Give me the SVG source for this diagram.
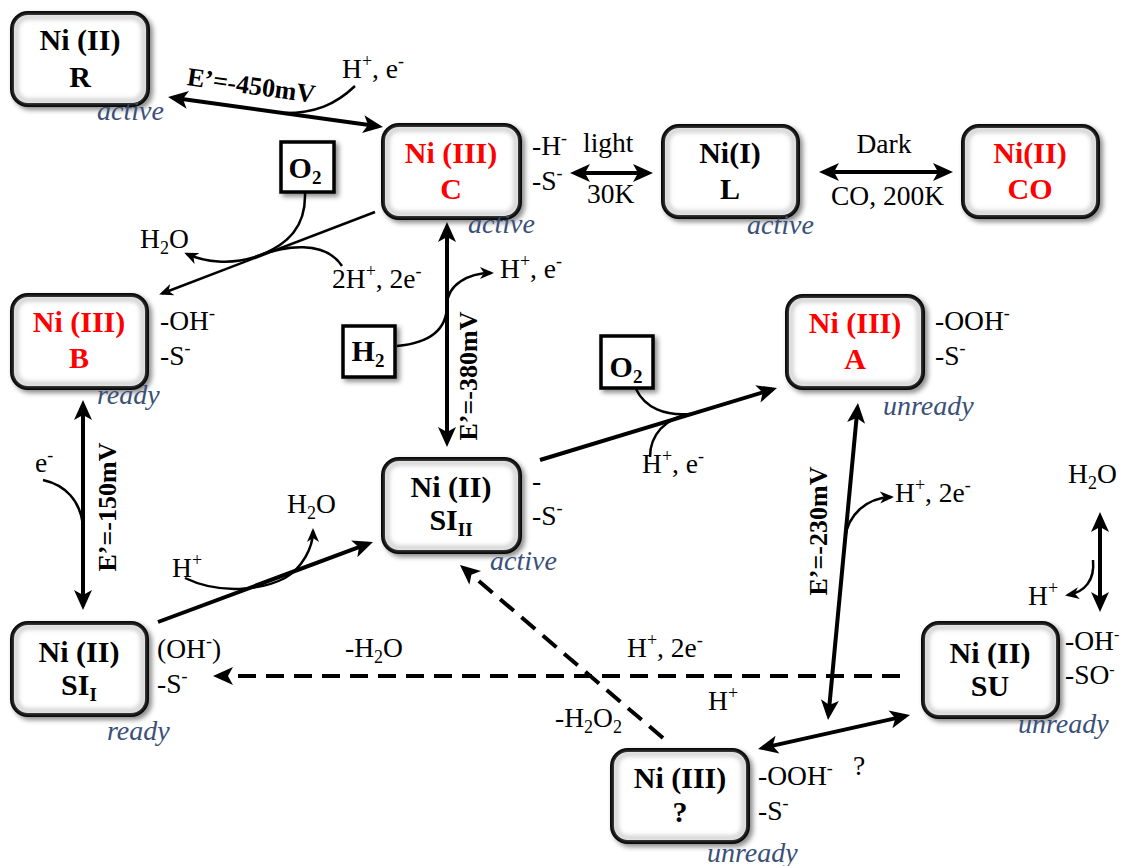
<svg xmlns="http://www.w3.org/2000/svg" width="1131" height="866" viewBox="0 0 1131 866">
<defs>
<style>
.box{fill:#fff;stroke:#000;stroke-width:4;filter:url(#sh)}
.in{fill:none;stroke:#b0b0b0;stroke-width:3;filter:url(#bl)}
.nt{font-family:"Liberation Serif","Times New Roman",serif;font-weight:bold;font-size:30px;text-anchor:middle;fill:#000}
.red{fill:#f00}
.t{font-family:"Liberation Serif","Times New Roman",serif;font-size:27.5px;fill:#000}
.b{font-family:"Liberation Serif","Times New Roman",serif;font-size:26px;font-weight:bold;fill:#000}
.st{font-family:"Liberation Serif","Times New Roman",serif;font-style:italic;font-size:28px;fill:#3a5078}
.s{font-size:18px}
.ax{fill:none;stroke:#000;stroke-width:4}
.cv{fill:none;stroke:#000;stroke-width:2.5}
.dash{stroke-dasharray:18 10}
.sb{fill:#fff;stroke:#000;stroke-width:3.5;filter:url(#sh)}
</style>
<filter id="sh" x="-20%" y="-20%" width="140%" height="140%"><feDropShadow dx="3" dy="3" stdDeviation="2.5" flood-color="#000" flood-opacity="0.45"/></filter>
<filter id="bl" x="-20%" y="-20%" width="140%" height="140%"><feGaussianBlur stdDeviation="2.5"/></filter>
<marker id="ah" viewBox="0 0 20 20" refX="15" refY="10" markerWidth="20" markerHeight="20" markerUnits="userSpaceOnUse" orient="auto-start-reverse"><path d="M0,1 L20,10 L0,19 L5,10 z" fill="#000"/></marker>
<marker id="as" viewBox="0 0 14 14" refX="11" refY="7" markerWidth="14" markerHeight="14" markerUnits="userSpaceOnUse" orient="auto-start-reverse"><path d="M0,1 L14,7 L0,13 L4,7 z" fill="#000"/></marker>
</defs>
<rect width="1131" height="866" fill="#fff"/>

<g id="connectors">
<line class="ax" x1="173" y1="97.7" x2="378" y2="126.3" marker-start="url(#ah)" marker-end="url(#ah)"/>
<path class="cv" d="M355,86 C335,105 315,113 285,113"/>
<line class="ax" x1="575" y1="173" x2="648" y2="173" marker-start="url(#ah)" marker-end="url(#ah)"/>
<line class="ax" x1="824" y1="172" x2="948" y2="172" marker-start="url(#ah)" marker-end="url(#ah)"/>
<line class="cv" x1="375" y1="212" x2="162" y2="293.5" marker-end="url(#as)"/>
<path class="cv" d="M305,193 C306,225 290,245 255,257"/>
<path class="cv" d="M342,266 C325,240 285,245 255,257 C230,265 205,262 187,254" marker-end="url(#as)"/>
<line class="ax" x1="447" y1="227" x2="447" y2="442" marker-start="url(#ah)" marker-end="url(#ah)"/>
<path class="cv" d="M397,346 C430,343 447,330 447,305 C447,285 468,273 491,273" marker-end="url(#as)"/>
<line class="ax" x1="83" y1="405" x2="83" y2="605" marker-start="url(#ah)" marker-end="url(#ah)"/>
<path class="cv" d="M43,480 C65,485 80,500 83,525"/>
<line class="ax" x1="158" y1="622" x2="368.3" y2="543.7" marker-end="url(#ah)"/>
<path class="cv" d="M185,578 C220,595 262,590 285,578 C302,568 313,548 313,531" marker-end="url(#as)"/>
<line class="ax" x1="540" y1="460" x2="772.2" y2="389.5" marker-end="url(#ah)"/>
<path class="cv" d="M636,389 C645,408 665,416 690,414"/>
<path class="cv" d="M650,457 C650,435 665,418 690,414"/>
<line class="ax" x1="857.5" y1="408" x2="828.5" y2="715" marker-start="url(#ah)" marker-end="url(#ah)"/>
<path class="cv" d="M845,538 C848,515 866,498 891,497" marker-end="url(#as)"/>
<line class="ax" x1="1100" y1="517" x2="1100" y2="607" marker-start="url(#ah)" marker-end="url(#ah)"/>
<path class="cv" d="M1093,560 C1095,580 1085,592 1068,595" marker-end="url(#as)"/>
<line class="ax dash" x1="900" y1="676" x2="218" y2="676" marker-end="url(#ah)"/>
<line class="ax dash" x1="663" y1="738" x2="463.8" y2="568.2" marker-end="url(#ah)"/>
<line class="ax" x1="762.9" y1="747.9" x2="905.1" y2="716.1" marker-start="url(#ah)" marker-end="url(#ah)"/>
</g>

<g id="node-R">
<rect class="box" x="12" y="13" width="136" height="92" rx="16"/>
<rect class="in" x="16" y="17" width="128" height="84" rx="12"/>
<text class="nt" x="80" y="50">Ni (II)</text>
<text class="nt" x="80" y="87">R</text>
<text class="st" x="97" y="120">active</text>
</g>

<g id="node-C">
<rect class="box" x="383" y="125" width="137" height="93" rx="16"/>
<rect class="in" x="387" y="129" width="129" height="85" rx="12"/>
<text class="nt red" x="451" y="163">Ni (III)</text>
<text class="nt red" x="451" y="199">C</text>
<text class="t" x="532" y="155">-H<tspan class="s" dy="-11">-</tspan></text>
<text class="t" x="532" y="190">-S<tspan class="s" dy="-11">-</tspan></text>
<text class="st" x="468" y="233">active</text>
</g>

<g id="node-L">
<rect class="box" x="663" y="126" width="135" height="91" rx="16"/>
<rect class="in" x="667" y="130" width="127" height="83" rx="12"/>
<text class="nt" x="730" y="163">Ni(I)</text>
<text class="nt" x="730" y="199">L</text>
<text class="st" x="747" y="234">active</text>
</g>

<g id="node-CO">
<rect class="box" x="963" y="126" width="135" height="91" rx="16"/>
<rect class="in" x="967" y="130" width="127" height="83" rx="12"/>
<text class="nt red" x="1030" y="163">Ni(II)</text>
<text class="nt red" x="1030" y="199">CO</text>
</g>

<g id="node-B">
<rect class="box" x="12" y="295" width="135" height="93" rx="16"/>
<rect class="in" x="16" y="299" width="127" height="85" rx="12"/>
<text class="nt red" x="79" y="332">Ni (III)</text>
<text class="nt red" x="79" y="368">B</text>
<text class="t" x="160" y="330">-OH<tspan class="s" dy="-11">-</tspan></text>
<text class="t" x="160" y="365">-S<tspan class="s" dy="-11">-</tspan></text>
<text class="st" x="97" y="404">ready</text>
</g>

<g id="node-A">
<rect class="box" x="787" y="296" width="136" height="92" rx="16"/>
<rect class="in" x="791" y="300" width="128" height="84" rx="12"/>
<text class="nt red" x="855" y="333">Ni (III)</text>
<text class="nt red" x="855" y="369">A</text>
<text class="t" x="935" y="330">-OOH<tspan class="s" dy="-11">-</tspan></text>
<text class="t" x="935" y="365">-S<tspan class="s" dy="-11">-</tspan></text>
<text class="st" x="883" y="415">unready</text>
</g>

<g id="node-SIII">
<rect class="box" x="383" y="459" width="137" height="93" rx="16"/>
<rect class="in" x="387" y="463" width="129" height="85" rx="12"/>
<text class="nt" x="451" y="497">Ni (II)</text>
<text class="nt" x="451" y="530">SI<tspan font-size="19px" dy="6">II</tspan></text>
<text class="t" x="532" y="490">-</text>
<text class="t" x="532" y="525">-S<tspan class="s" dy="-11">-</tspan></text>
<text class="st" x="490" y="570">active</text>
</g>

<g id="node-SII">
<rect class="box" x="12" y="623" width="135" height="92" rx="16"/>
<rect class="in" x="16" y="627" width="127" height="84" rx="12"/>
<text class="nt" x="79" y="662">Ni (II)</text>
<text class="nt" x="79" y="695">SI<tspan font-size="19px" dy="6">I</tspan></text>
<text class="t" x="157" y="658">(OH<tspan class="s" dy="-11">-</tspan><tspan dy="11">)</tspan></text>
<text class="t" x="157" y="693">-S<tspan class="s" dy="-11">-</tspan></text>
<text class="st" x="107" y="740">ready</text>
</g>

<g id="node-SU">
<rect class="box" x="923" y="623" width="135" height="94" rx="16"/>
<rect class="in" x="927" y="627" width="127" height="86" rx="12"/>
<text class="nt" x="990" y="663">Ni (II)</text>
<text class="nt" x="990" y="696">SU</text>
<text class="t" x="1065" y="650" font-size="26px">-OH<tspan font-size="16px" dy="-10">-</tspan></text>
<text class="t" x="1065" y="684" font-size="26px">-SO<tspan font-size="16px" dy="-9">-</tspan></text>
<text class="st" x="1018" y="733">unready</text>
</g>

<g id="node-Q">
<rect class="box" x="612" y="750" width="136" height="92" rx="16"/>
<rect class="in" x="616" y="754" width="128" height="84" rx="12"/>
<text class="nt" x="680" y="788">Ni (III)</text>
<text class="nt" x="680" y="822">?</text>
<text class="t" x="758" y="785">-OOH<tspan class="s" dy="-11">-</tspan></text>
<text class="t" x="853" y="775" font-size="18px">?</text>
<text class="t" x="758" y="820">-S<tspan class="s" dy="-11">-</tspan></text>
<text class="st" x="707" y="862">unready</text>
</g>

<g id="node-O2a">
<rect class="sb" x="281" y="142" width="53" height="50"/>
<text class="nt" x="305" y="178" font-size="28px">O<tspan font-size="19px" dy="6">2</tspan></text>
</g>
<g id="node-O2b">
<rect class="sb" x="601" y="336" width="52" height="52"/>
<text class="nt" x="626" y="377" font-size="28px">O<tspan font-size="19px" dy="6">2</tspan></text>
</g>
<g id="node-H2">
<rect class="sb" x="343" y="326" width="52" height="51"/>
<text class="nt" x="368" y="361" font-size="28px">H<tspan font-size="19px" dy="6">2</tspan></text>
</g>

<g id="labels">
<text class="b" x="250" y="94" text-anchor="middle" transform="rotate(8 250 94)">E’=-450mV</text>
<text class="t" x="342" y="78">H<tspan class="s" dy="-11">+</tspan><tspan dy="11">, e</tspan><tspan class="s" dy="-11">-</tspan></text>
<text class="t" x="583" y="152">light</text>
<text class="t" x="587" y="203">30K</text>
<text class="t" x="884" y="153" text-anchor="middle">Dark</text>
<text class="t" x="831" y="205">CO, 200K</text>
<text class="t" x="140" y="248">H<tspan class="s" dy="6">2</tspan><tspan dy="-6">O</tspan></text>
<text class="t" x="332" y="288">2H<tspan class="s" dy="-11">+</tspan><tspan dy="11">, 2e</tspan><tspan class="s" dy="-11">-</tspan></text>
<text class="t" x="500" y="278">H<tspan class="s" dy="-11">+</tspan><tspan dy="11">, e</tspan><tspan class="s" dy="-11">-</tspan></text>
<text class="b" x="477" y="376" text-anchor="middle" transform="rotate(-90 477 376)">E’=-380mV</text>
<text class="b" x="116" y="507" text-anchor="middle" transform="rotate(-90 116 507)">E’=-150mV</text>
<text class="b" x="827" y="531" text-anchor="middle" transform="rotate(-90 827 531)">E’=-230mV</text>
<text class="t" x="35" y="472">e<tspan class="s" dy="-11">-</tspan></text>
<text class="t" x="287" y="513">H<tspan class="s" dy="6">2</tspan><tspan dy="-6">O</tspan></text>
<text class="t" x="172" y="577">H<tspan class="s" dy="-11">+</tspan></text>
<text class="t" x="642" y="473">H<tspan class="s" dy="-11">+</tspan><tspan dy="11">, e</tspan><tspan class="s" dy="-11">-</tspan></text>
<text class="t" x="895" y="502">H<tspan class="s" dy="-11">+</tspan><tspan dy="11">, 2e</tspan><tspan class="s" dy="-11">-</tspan></text>
<text class="t" x="1068" y="483">H<tspan class="s" dy="6">2</tspan><tspan dy="-6">O</tspan></text>
<text class="t" x="1028" y="605">H<tspan class="s" dy="-11">+</tspan></text>
<text class="t" x="345" y="657">-H<tspan class="s" dy="6">2</tspan><tspan dy="-6">O</tspan></text>
<text class="t" x="627" y="657">H<tspan class="s" dy="-11">+</tspan><tspan dy="11">, 2e</tspan><tspan class="s" dy="-11">-</tspan></text>
<text class="t" x="708" y="710">H<tspan class="s" dy="-11">+</tspan></text>
<text class="t" x="555" y="727">-H<tspan class="s" dy="6">2</tspan><tspan dy="-6">O</tspan><tspan class="s" dy="6">2</tspan></text>
</g>
</svg>
